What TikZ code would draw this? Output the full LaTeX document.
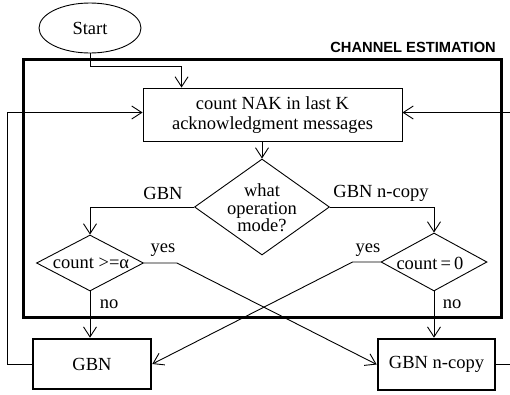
\documentclass[tikz,border=0pt]{standalone}
\usepackage{fontspec}
\setmainfont{Liberation Serif}
\newfontfamily\headfont{Liberation Sans}
\usetikzlibrary{arrows.meta,shapes.geometric}

\begin{document}
\begin{tikzpicture}[x=1pt,y=-1pt,
  txt/.style={font=\fontsize{18.5}{20}\selectfont, inner sep=0pt},
  flow/.style={line width=0.9pt, -{Straight Barb[length=10pt,width=13pt,line width=0.9pt]}},
  dia/.style={diamond, draw, line width=0.9pt, inner sep=0pt},
  procbox/.style={draw, line width=0.9pt, inner sep=0pt},
  modebox/.style={draw, line width=2.6pt, inner sep=0pt},
  lbl/.style={txt, anchor=base}]
\useasboundingbox (0,0) rectangle (510,394);

% channel estimation frame
\node[draw, line width=3pt, minimum width=478, minimum height=258, inner sep=0pt] (chan) at (262,188) {};
\node[anchor=base east, inner sep=0pt, font=\headfont\bfseries\fontsize{14.7}{16}\selectfont] (chanlbl) at (496,52) {CHANNEL ESTIMATION};

% nodes
\node[ellipse, draw, line width=0.9pt, minimum width=102, minimum height=50, inner sep=0pt, txt] (start) at (90,28) {Start};
\node[procbox, minimum width=259, minimum height=53] (count) at (272.5,114.5) {};
\node[txt, align=center, font=\fontsize{18.5}{20}\selectfont] (counttxt) at (272.5,115) {count NAK in last K\\acknowledgment messages};

\node[dia, minimum width=135, minimum height=96] (op) at (262,207) {};
\node[txt, align=center, font=\fontsize{18.5}{17.5}\selectfont] (optxt) at (262,208) {what\\operation\\mode?};

\node[dia, minimum width=107, minimum height=56] (ldia) at (90,263) {};
\node[txt] (ldiatxt) at (91,263) {count >=α};
\node[dia, minimum width=106, minimum height=58] (rdia) at (434,262) {};
\node[txt] (rdiatxt) at (430,263) {count\,=\,0};

\node[modebox, minimum width=118, minimum height=50, txt] (gbn) at (92,364) {GBN};
\node[modebox, minimum width=117, minimum height=51, txt] (ncopy) at (436.5,364.5) {GBN n-copy};

% connectors
\draw[flow] (start.south) -- ++(0,13) -| ([xshift=39pt]count.north west);
\draw[flow] (count.south -| op.north) -- (op.north);
\draw[flow] (op.west) -| (ldia.north);
\draw[flow] (op.east) -| (rdia.north);
\draw[flow] (ldia.south) -- (ldia.south |- gbn.north);
\draw[flow] (rdia.south) -- (rdia.south |- ncopy.north);
\draw[flow] (ldia.east) -- ++(33,0) -- (ncopy.west);
\draw[flow] (rdia.west) -- ++(-28,0) -- (gbn.east);
\draw[flow] (gbn.west) -- ++(-24,0) |- ([yshift=2pt]count.west);
\draw[flow] (ncopy.east) -- ++(20,0) |- ([yshift=2pt]count.east);

% branch labels
\node[lbl] (lgbn) at (163,199) {GBN};
\node[lbl] (lncopy) at (381,197) {GBN n-copy};
\node[lbl] (lyes1) at (163,252) {yes};
\node[lbl] (lyes2) at (368,252) {yes};
\node[lbl] (lno1) at (109,308) {no};
\node[lbl] (lno2) at (452,308) {no};
\end{tikzpicture}
\end{document}
